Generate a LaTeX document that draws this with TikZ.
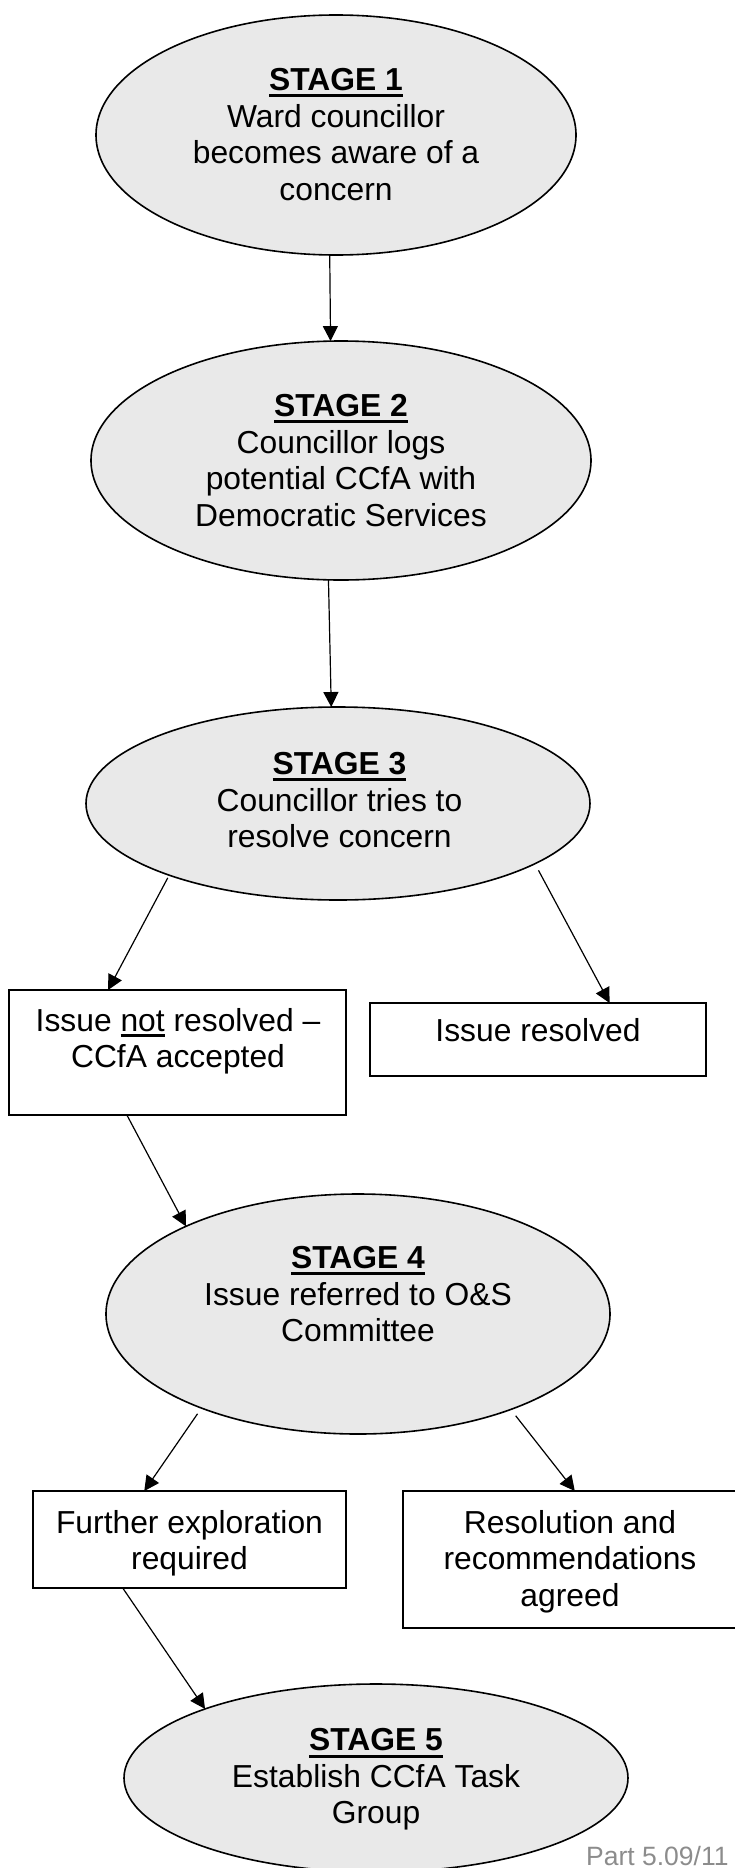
\documentclass[tikz,border=0pt]{standalone}
\usepackage{fontspec}
\setmainfont{Liberation Sans}
\usetikzlibrary{shapes.geometric,arrows.meta}
\definecolor{stagefill}{RGB}{233,233,233}
\definecolor{footgray}{RGB}{140,140,140}
\newsavebox\ulsavebox
\newcommand\ulthick[1]{\sbox\ulsavebox{#1}\leavevmode\rlap{\rule[-7pt]{\wd\ulsavebox}{3pt}}\usebox\ulsavebox}
\newcommand\ulthin[1]{\sbox\ulsavebox{#1}\leavevmode\rlap{\rule[-5.5pt]{\wd\ulsavebox}{2.2pt}}\usebox\ulsavebox}
\begin{document}
\begin{tikzpicture}[x=1pt,y=-1pt,
  stage/.style={ellipse,draw,line width=1.6pt,fill=stagefill,inner sep=0pt,outer sep=0pt},
  flowbox/.style={rectangle,draw,line width=2pt,fill=white,inner sep=0pt,outer sep=0pt},
  txt/.style={font=\fontsize{31.8}{36.6}\selectfont,align=center,inner sep=0pt,outer sep=0pt},
  conn/.style={line width=1.2pt,-{Triangle[length=15pt,width=15pt]}}]
\useasboundingbox (0,0) rectangle (734,1868);

% stage ellipses
\node[stage,minimum width=480pt,minimum height=240pt] (s1) at (336,135) {};
\node[stage,minimum width=500pt,minimum height=239pt] (s2) at (341,460.5) {};
\node[stage,minimum width=504pt,minimum height=193pt] (s3) at (338,803.5) {};
\node[stage,minimum width=504pt,minimum height=240pt] (s4) at (358,1314) {};
\node[stage,minimum width=504pt,minimum height=188pt] (s5) at (376,1778) {};

% boxes
\node[flowbox,minimum width=337pt,minimum height=125pt] (b1) at (177.5,1052.5) {};
\node[flowbox,minimum width=336pt,minimum height=73pt] (b2) at (538,1039.5) {};
\node[flowbox,minimum width=313pt,minimum height=97pt] (b3) at (189.5,1539.5) {};
\node[flowbox,minimum width=334pt,minimum height=137pt] (b4) at (570,1559.5) {};

% texts
\node[txt] (t1) at (336,134.4) {\ulthick{\textbf{STAGE 1}}\\Ward councillor\\becomes aware of a\\concern};
\node[txt] (t2) at (341,460.4) {\ulthick{\textbf{STAGE 2}}\\Councillor logs\\potential CCfA with\\Democratic Services};
\node[txt] (t3) at (339.5,800.1) {\ulthick{\textbf{STAGE 3}}\\Councillor tries to\\resolve concern};
\node[txt] (t4) at (358,1294.1) {\ulthick{\textbf{STAGE 4}}\\Issue referred to O\&S\\Committee};
\node[txt] (t5) at (376,1779.5) {\ulthick{\textbf{STAGE 5}}\\Establish CCfA Task\\Group};
\node[txt] (t6) at (178,1041.2) {Issue \ulthin{not} resolved –\\CCfA accepted};
\node[txt] (t7) at (538,1030.5) {Issue resolved};
\node[txt] (t8) at (189.5,1543.2) {Further exploration\\required};
\node[txt] (t9) at (570,1561.5) {Resolution and\\recommendations\\agreed};

% footer
\node[font=\fontsize{26.5}{30}\selectfont,text=footgray,anchor=base west,inner sep=0pt] (foot) at (586,1865) {Part 5.09/11};

% connectors
\draw[conn] (s1.267.1) -- (s2.95.26);
\draw[conn] (s2.264.74) -- (s3.94.74);
\draw[conn,shorten <=3pt] (s3.203.05) -- (b1.138.4);
\draw[conn,shorten <=7.5pt] (s3.343.1) -- (b2.27.2);
\draw[conn] (b1.231.6) -- (s4.153.04);
\draw[conn,shorten <=7pt] (s4.211.9) -- (b3.133.2);
\draw[conn,shorten <=8pt] (s4.328.8) -- (b4.86.4);
\draw[conn] (b3.216.6) -- (s5.158.06);
\end{tikzpicture}
\end{document}
